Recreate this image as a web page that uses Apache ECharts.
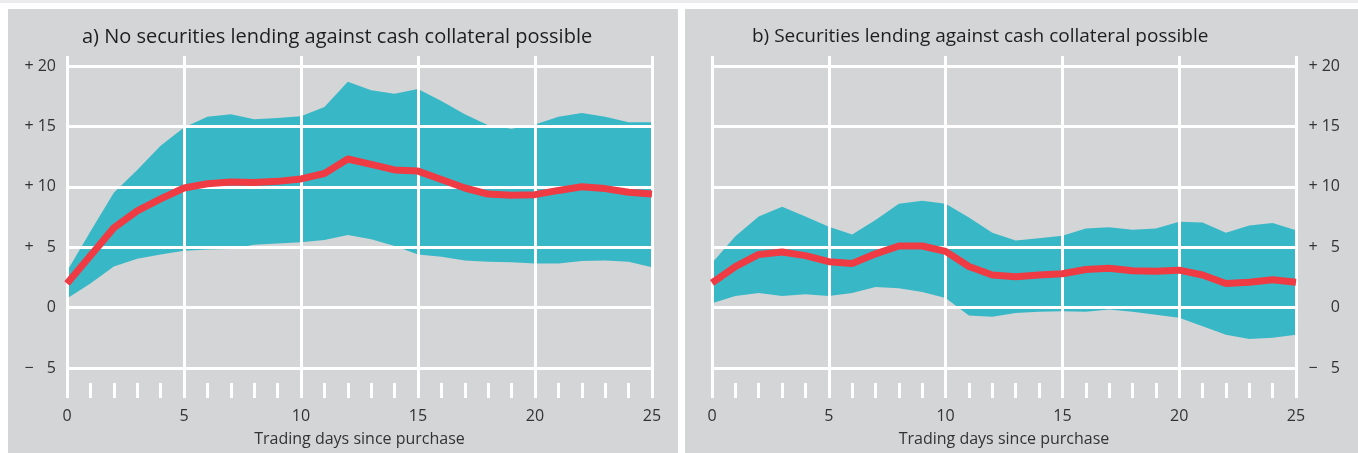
<!DOCTYPE html>
<html>
<head>
<meta charset="utf-8">
<script src="https://cdn.jsdelivr.net/npm/echarts@6/dist/echarts.min.js"></script>
<style>
  html, body { margin: 0; padding: 0; background: #fff; }
  #chart { width: 1358px; height: 453px; }
</style>
</head>
<body>
<div id="chart"></div>
<script>
// trading days 0..25
const days = ['0','1','2','3','4','5','6','7','8','9','10','11','12','13','14','15','16','17','18','19','20','21','22','23','24','25']

// a) no securities lending against cash collateral possible
const aUpper  = [3.0, 6.3, 9.5, 11.4, 13.4, 14.9, 15.8, 16.0, 15.6, 15.7, 15.85, 16.6, 18.7, 18.0, 17.7, 18.1, 17.1, 16.0, 15.1, 14.8, 15.15, 15.8, 16.1, 15.8, 15.35, 15.35]
const aMedian = [2.0, 4.3, 6.6, 8.0, 9.0, 9.9, 10.25, 10.4, 10.35, 10.45, 10.65, 11.1, 12.3, 11.85, 11.4, 11.3, 10.6, 9.9, 9.4, 9.3, 9.35, 9.7, 10.0, 9.85, 9.55, 9.4]
const aLower  = [0.75, 2.0, 3.4, 4.05, 4.4, 4.7, 4.8, 4.85, 5.2, 5.3, 5.4, 5.6, 6.0, 5.65, 5.1, 4.4, 4.2, 3.9, 3.8, 3.75, 3.65, 3.65, 3.85, 3.9, 3.8, 3.35]

// b) securities lending against cash collateral possible
const bUpper  = [3.7, 5.9, 7.55, 8.35, 7.55, 6.7, 6.05, 7.25, 8.6, 8.85, 8.6, 7.45, 6.2, 5.55, 5.75, 5.95, 6.55, 6.65, 6.45, 6.55, 7.1, 7.05, 6.2, 6.8, 7.0, 6.4]
const bMedian = [2.05, 3.4, 4.4, 4.6, 4.3, 3.8, 3.65, 4.45, 5.1, 5.1, 4.65, 3.4, 2.7, 2.55, 2.7, 2.8, 3.15, 3.25, 3.05, 3.0, 3.1, 2.7, 2.0, 2.1, 2.3, 2.1]
const bLower  = [0.35, 0.95, 1.2, 0.95, 1.1, 0.95, 1.2, 1.7, 1.6, 1.3, 0.8, -0.65, -0.75, -0.45, -0.35, -0.3, -0.35, -0.15, -0.35, -0.6, -0.85, -1.55, -2.25, -2.6, -2.5, -2.25]

const titles = ['a) No securities lending against cash collateral possible', 'b) Securities lending against cash collateral possible']
const xName = 'Trading days since purchase'
const yTicks = { '20': '+ 20', '15': '+ 15', '10': '+ 10', '5': '+ \u20075', '0': '0', '-5': '\u2212 \u20075' }

const FONT = '"Open Sans", "Noto Sans", sans-serif'
const GREY = '#d4d5d7'
const TEAL = '#38b8c6'
const RED = '#ee3b44'
const TEXT = '#333'

const chart = echarts.init(document.getElementById('chart'))

// outer grid: vertical lines + ticks, inner grid: horizontal lines + data
function outerX(gridIndex) {
  return {
    gridIndex: gridIndex,
    type: 'category',
    data: days,
    boundaryGap: false,
    z: 3,
    axisLine: { show: false },
    axisTick: { show: true, inside: true, length: 15, interval: 0, lineStyle: { color: '#fff', width: 3 } },
    splitLine: { show: true, interval: 4, lineStyle: { color: '#fff', width: 3 } },
    axisLabel: { interval: 4, margin: 10, color: TEXT, fontSize: 16, fontFamily: FONT },
    name: xName,
    nameLocation: 'middle',
    nameGap: 33,
    nameTextStyle: { color: TEXT, fontSize: 16, fontFamily: FONT }
  }
}
function innerX(gridIndex) {
  return { gridIndex: gridIndex, type: 'category', data: days, boundaryGap: false, show: false }
}
function outerY(gridIndex) {
  return { gridIndex: gridIndex, type: 'value', min: 0, max: 1, show: false }
}
function innerY(gridIndex, pos, margin) {
  return {
    gridIndex: gridIndex,
    type: 'value',
    position: pos,
    min: -5,
    max: 20,
    interval: 5,
    z: 3,
    axisLine: { show: false },
    axisTick: { show: false },
    splitLine: { show: true, lineStyle: { color: '#fff', width: 3 } },
    axisLabel: {
      align: 'right',
      margin: margin,
      color: TEXT,
      fontSize: 16,
      fontFamily: FONT,
      formatter: v => yTicks[String(v)]
    }
  }
}
function bandSeries(axisIndex, lower, upper, median, stackId) {
  return [
    {
      type: 'line',
      xAxisIndex: axisIndex,
      yAxisIndex: axisIndex,
      data: lower,
      stack: stackId,
      stackStrategy: 'all',
      symbol: 'none',
      lineStyle: { width: 0, opacity: 0 },
      silent: true,
      z: 2
    },
    {
      type: 'line',
      xAxisIndex: axisIndex,
      yAxisIndex: axisIndex,
      data: upper.map((v, i) => +(v - lower[i]).toFixed(2)),
      stack: stackId,
      stackStrategy: 'all',
      symbol: 'none',
      lineStyle: { width: 0, opacity: 0 },
      areaStyle: { color: TEAL, opacity: 1 },
      silent: true,
      z: 2
    },
    {
      type: 'line',
      xAxisIndex: axisIndex,
      yAxisIndex: axisIndex,
      data: median,
      symbol: 'none',
      lineStyle: { color: RED, width: 7, join: 'round' },
      z: 5
    }
  ]
}

const titleStyle = { color: '#1e1e1e', fontSize: 20, fontWeight: 'normal', fontFamily: FONT }

chart.setOption({
  animation: false,
  backgroundColor: '#fff',
  textStyle: { fontFamily: FONT },
  graphic: [
    { type: 'rect', z: -10, shape: { x: 0, y: 0, width: 1358, height: 3 }, style: { fill: '#ebebed' } },
    { type: 'rect', z: -10, shape: { x: 8, y: 9, width: 670, height: 444 }, style: { fill: GREY } },
    { type: 'rect', z: -10, shape: { x: 685, y: 9, width: 673, height: 444 }, style: { fill: GREY } }
  ],
  title: [
    { text: titles[0], left: 82, top: 27, padding: 0, textStyle: titleStyle },
    { text: titles[1], left: 752, top: 27, padding: 0, textStyle: Object.assign({}, titleStyle, { fontSize: 19 }) }
  ],
  grid: [
    { left: 67, width: 585, top: 56, bottom: 55 },
    { left: 67, width: 585, top: 66, height: 302 },
    { left: 712, width: 584, top: 56, bottom: 55 },
    { left: 712, width: 584, top: 66, height: 302 }
  ],
  xAxis: [outerX(0), innerX(1), outerX(2), innerX(3)],
  yAxis: [outerY(0), innerY(1, 'left', 11), outerY(2), innerY(3, 'right', 44)],
  series: [
    ...bandSeries(1, aLower, aUpper, aMedian, 'a'),
    ...bandSeries(3, bLower, bUpper, bMedian, 'b')
  ]
})
</script>
</body>
</html>
